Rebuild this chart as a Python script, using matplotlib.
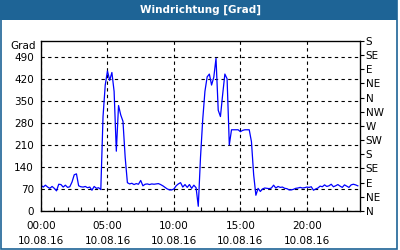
import numpy as np
import matplotlib
matplotlib.use("Agg")
import matplotlib.pyplot as plt
from matplotlib.patches import Rectangle

# Windrichtung, 10-Minuten-Werte ab 00:00 (Grad)
wind_dir = [
    82, 76, 82, 76, 72, 78, 72, 64, 85, 84,
    76, 82, 75, 77, 92, 115, 118, 80, 77, 76,
    78, 74, 76, 66, 78, 72, 74, 68,
    300, 400, 445, 415, 440, 380, 190, 335, 305, 285, 170, 90,
    86, 88, 84, 87, 85, 97, 80, 85, 86, 84,
    86, 85, 86, 87, 84, 80, 75, 70, 67, 67,
    70, 80, 86, 90, 76, 84, 75, 84, 72, 82,
    74, 15,
    170, 290, 380, 426, 435, 400, 425, 485, 320, 300,
    370, 435, 420, 210, 258, 258, 258, 258, 252, 256,
    258, 258, 258, 220, 115, 50, 72, 62,
    70, 73, 72, 71, 73, 82, 73, 78, 75, 76,
    72, 71, 67, 67, 69, 72, 73, 75, 73, 74,
    76, 75, 77, 66, 70, 73, 79, 77, 83, 78,
    80, 85, 77, 80, 84, 79, 75, 83, 79, 75,
    83, 85, 83, 80,
]
step_min = 10
hours = np.arange(len(wind_dir)) * step_min / 60.0

x_ticks = [0, 5, 10, 15, 20]
x_labels = ["00:00\n10.08.16", "05:00\n10.08.16", "10:00\n10.08.16",
            "15:00\n10.08.16", "20:00\n10.08.16"]
y_ticks = [0, 70, 140, 210, 280, 350, 420, 490]
compass_ticks = [0, 45, 90, 135, 180, 225, 270, 315, 360, 405, 450, 495, 540]
compass_labels = ["N", "NE", "E", "SE", "S", "SW", "W", "NW", "N", "NE", "E", "SE", "S"]

bar_blue = "#1e6496"
fs = 7.5

fig = plt.figure(figsize=(4, 2.5), dpi=100)
fig.patch.set_facecolor("white")

# Rahmen und Titelleiste
fig.patches.append(Rectangle((0.5 / 400, 1 - 248.5 / 250), 396.5 / 400, 248.5 / 250,
                             transform=fig.transFigure, fill=False,
                             edgecolor=bar_blue, lw=1.2, zorder=0))
fig.patches.append(Rectangle((0, 1 - 20 / 250), 397 / 400, 20 / 250,
                             transform=fig.transFigure, facecolor=bar_blue,
                             edgecolor="none", zorder=1))
fig.text(200 / 400, 1 - 10 / 250, "Windrichtung [Grad]", color="white",
         fontsize=fs, fontweight="bold", ha="center", va="center")

ax = fig.add_axes([41 / 400, 1 - 211 / 250, 319 / 400, 170 / 250])
ax.plot(hours, wind_dir, color="#0000ff", lw=0.9)

ax.set_xlim(0, 24)
ax.set_ylim(0, 540)
ax.set_xticks(x_ticks)
ax.set_xticklabels(x_labels, fontsize=fs, linespacing=1.65)
ax.set_xticks(np.arange(0, 24, 1), minor=True)
ax.set_yticks(y_ticks)
ax.set_yticklabels([str(v) for v in y_ticks], fontsize=fs)
ax.tick_params(axis="x", which="both", direction="in", length=3, width=0.8, pad=7)
ax.tick_params(axis="y", which="both", length=0, pad=5)
ax.grid(True, color="black", linestyle=(0, (3, 3)), lw=0.8)
for sp in ax.spines.values():
    sp.set_linewidth(0.9)
ax.text(-0.015, 1 - 5 / 170, "Grad", transform=ax.transAxes, fontsize=fs,
        ha="right", va="center")

ax2 = ax.twinx()
ax2.set_ylim(0, 540)
ax2.set_yticks(compass_ticks)
ax2.set_yticklabels(compass_labels, fontsize=fs)
ax2.tick_params(axis="y", direction="out", length=3, width=0.8, pad=1)

fig.savefig("out.png", dpi=100)
